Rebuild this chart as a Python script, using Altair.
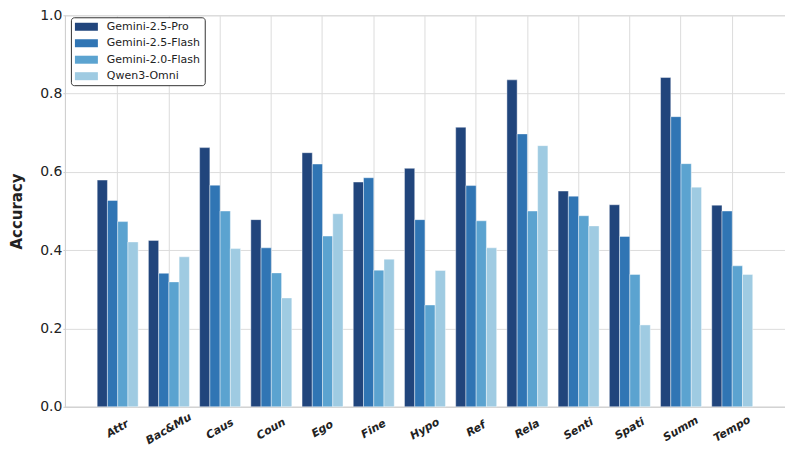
import altair as alt
import pandas as pd

categories = ["Attr", "Bac&Mu", "Caus", "Coun", "Ego", "Fine", "Hypo",
              "Ref", "Rela", "Senti", "Spati", "Summ", "Tempo"]
series = ["Gemini-2.5-Pro", "Gemini-2.5-Flash", "Gemini-2.0-Flash", "Qwen3-Omni"]
colors = ["#21457c", "#3075b4", "#5ba3d0", "#9fcbe2"]

gemini_25_pro =   [0.579, 0.425, 0.662, 0.478, 0.649, 0.574, 0.609, 0.714, 0.835, 0.551, 0.516, 0.841, 0.515]
gemini_25_flash = [0.527, 0.341, 0.566, 0.406, 0.620, 0.585, 0.478, 0.565, 0.697, 0.538, 0.435, 0.741, 0.500]
gemini_20_flash = [0.473, 0.319, 0.500, 0.342, 0.436, 0.349, 0.260, 0.475, 0.500, 0.488, 0.338, 0.621, 0.360]
qwen3_omni =      [0.421, 0.383, 0.404, 0.278, 0.493, 0.377, 0.348, 0.406, 0.667, 0.462, 0.209, 0.561, 0.338]

values = [gemini_25_pro, gemini_25_flash, gemini_20_flash, qwen3_omni]
rows = []
for s, vals in zip(series, values):
    for c, v in zip(categories, vals):
        rows.append({"Category": c, "Model": s, "Accuracy": v})
df = pd.DataFrame(rows)

font = "DejaVu Sans"

chart = alt.Chart(df).mark_bar(stroke="white", strokeWidth=0.6, strokeOpacity=0.7).encode(
    x=alt.X("Category:N", sort=categories,
            scale=alt.Scale(paddingInner=0.2, paddingOuter=0.63),
            axis=alt.Axis(title=None, labelAngle=-30, labelAlign="center", labelBaseline="middle",
                          labelPadding=22, tickSize=0, bandPosition=0.5, grid=True,
                          gridColor="#dcdcdc", labelFont=font, labelFontSize=11,
                          labelFontWeight="bold", labelFontStyle="italic", labelColor="#222",
                          domainColor="#d0d0d0")),
    xOffset=alt.XOffset("Model:N", sort=series),
    y=alt.Y("Accuracy:Q", scale=alt.Scale(domain=[0, 1], nice=False),
            axis=alt.Axis(title="Accuracy", values=[0, 0.2, 0.4, 0.6, 0.8, 1.0], format=".1f",
                          grid=True, gridColor="#dcdcdc", tickSize=2, tickColor="#cccccc",
                          labelPadding=1, labelFont=font, labelFontSize=14, labelColor="#222",
                          titleFont=font, titleFontSize=15, titleFontWeight="bold",
                          titleColor="#222", titlePadding=15, domainColor="#d0d0d0")),
    color=alt.Color("Model:N", sort=series,
                    scale=alt.Scale(domain=series, range=colors),
                    legend=alt.Legend(title=None, orient="none", legendX=6, legendY=2,
                                      padding=4, fillColor="white", strokeColor="#333",
                                      cornerRadius=3,
                                      symbolType="M-2.875,-1L2.875,-1L2.875,1L-2.875,1Z",
                                      symbolSize=64, symbolStrokeWidth=0, symbolOpacity=1,
                                      symbolOffset=6,
                                      labelFont=font, labelFontSize=11, labelColor="#222",
                                      labelOffset=15, rowPadding=4.5)),
).properties(
    width=721, height=392,
    autosize=alt.AutoSizeParams(type="none"),
    padding={"left": 57, "top": 7, "right": 0, "bottom": 40},
).configure_view(stroke="#d0d0d0")

chart.save("out.html", embed_options={"renderer": "svg", "actions": False})
